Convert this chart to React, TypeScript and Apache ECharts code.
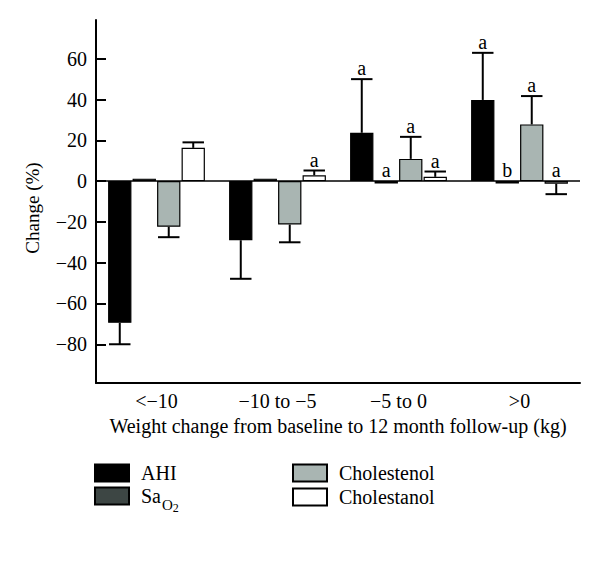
import React, { useEffect, useRef } from "react";
import * as echarts from "echarts";

const categories = ["<\u221210", "\u221210 to \u22125", "\u22125 to 0", ">0"];
const seriesNames = ["AHI", "SaO2", "Cholestenol", "Cholestanol"];
const seriesColors = ["#000000", "#3d4644", "#a9b5b2", "#ffffff"];

const ahi = [-69.5, -29, 23.7, 39.8];
const sao2 = [1.2, 1.2, -1.2, -1.2];
const cholestenol = [-22.4, -21.3, 10.9, 27.8];
const cholestanol = [16.3, 2.9, 2.1, -1.3];

const ahiErrEnd = [-80, -47.9, 50, 62.9];
const sao2ErrEnd = [null, null, null, null];
const cholestenolErrEnd = [-27.5, -30, 21.7, 41.7];
const cholestanolErrEnd = [19, 5.2, 4.7, -6.4];

const ahiLetters = ["", "", "a", "a"];
const sao2Letters = ["", "", "a", "b"];
const cholestenolLetters = ["", "", "a", "a"];
const cholestanolLetters = ["", "a", "a", "a"];

const yTicks = [-80, -60, -40, -20, 0, 20, 40, 60];

const FONT = "Liberation Serif";

export default function App() {
  const ref = useRef<HTMLDivElement>(null);

  useEffect(() => {
    document.body.style.margin = "0";
    if (!ref.current) return;
    const chart = echarts.init(ref.current, null, { renderer: "svg" });

    const values = [ahi, sao2, cholestenol, cholestanol];
    const errs = [ahiErrEnd, sao2ErrEnd, cholestenolErrEnd, cholestanolErrEnd];
    const letters = [ahiLetters, sao2Letters, cholestenolLetters, cholestanolLetters];

    const errData: any[] = [];
    const errLetters: string[] = [];
    for (let s = 0; s < 4; s++) {
      for (let c = 0; c < categories.length; c++) {
        errData.push([c, s, values[s][c], errs[s][c] == null ? values[s][c] : errs[s][c]]);
        errLetters.push(letters[s][c]);
      }
    }

    const barSeries = seriesNames.map((name, i) => ({
      name,
      type: "bar",
      data: values[i],
      barCategoryGap: "20%",
      barGap: "5%",
      itemStyle: { color: seriesColors[i], borderColor: "#000", borderWidth: 1.2 },
      markLine:
        i === 0
          ? {
              silent: true,
              symbol: ["none", "none"],
              label: { show: false },
              lineStyle: { color: "#000", width: 1.6, type: "solid" },
              data: [{ yAxis: 0 }],
            }
          : undefined,
    }));

    const errSeries = {
      type: "custom",
      z: 5,
      data: errData,
      encode: { x: 0, y: 2 },
      renderItem: (params: any, api: any) => {
        const cat = api.value(0);
        const s = api.value(1);
        const v = api.value(2);
        const e = api.value(3);
        const catW = api.size([1, 0])[0];
        const avail = catW * 0.8;
        const bw = avail / (4 + 3 * 0.05);
        const base = api.coord([cat, 0]);
        const x = base[0] - avail / 2 + bw / 2 + s * bw * 1.05;
        const zeroY = base[1];
        const vy = api.coord([cat, v])[1];
        const ey = api.coord([cat, e])[1];
        const children: any[] = [];
        if (Math.abs(ey - vy) > 0.5) {
          const cw = bw * 0.92;
          children.push({
            type: "line",
            shape: { x1: x, y1: vy, x2: x, y2: ey },
            style: { stroke: "#000", lineWidth: 2 },
          });
          children.push({
            type: "line",
            shape: { x1: x - cw / 2, y1: ey, x2: x + cw / 2, y2: ey },
            style: { stroke: "#000", lineWidth: 2 },
          });
        }
        const letter = errLetters[params.dataIndex];
        if (letter) {
          const anchor = Math.min(vy, ey, zeroY);
          children.push({
            type: "text",
            style: {
              text: letter,
              x: x,
              y: anchor - 1,
              align: "center",
              verticalAlign: "bottom",
              fontSize: 20,
              fontFamily: FONT,
              fill: "#000",
            },
          });
        }
        return { type: "group", children };
      },
    };

    const legendText = {
      fontSize: 20,
      fontFamily: FONT,
      color: "#000",
      padding: [0, 0, 0, 7],
      rich: {
        m: { fontSize: 20, fontFamily: FONT, color: "#000", lineHeight: 40, verticalAlign: "middle" },
        o: {
          fontSize: 15,
          fontFamily: FONT,
          color: "#000",
          lineHeight: 15,
          verticalAlign: "top",
          padding: [21, 0, 0, 1],
        },
        t: {
          fontSize: 12,
          fontFamily: FONT,
          color: "#000",
          lineHeight: 12,
          verticalAlign: "top",
          padding: [26, 0, 0, 0],
        },
      },
    };
    const legendFormatter = (name: string) => (name === "SaO2" ? "{m|Sa}{o|O}{t|2}" : name);

    const legendBase = {
      orient: "vertical",
      itemWidth: 34,
      itemHeight: 17,
      itemGap: 4,
      icon: "rect",
      padding: 0,
      selectedMode: false,
      formatter: legendFormatter,
      textStyle: legendText,
    };

    chart.setOption({
      animation: false,
      textStyle: { fontFamily: FONT },
      grid: { left: 96, top: 20, width: 484, height: 363, outerBoundsMode: "none" },
      legend: [
        { ...legendBase, data: ["AHI"], left: 94, top: 463 },
        { ...legendBase, data: ["SaO2"], left: 94, top: 476 },
        { ...legendBase, data: ["Cholestenol", "Cholestanol"], left: 292, top: 463 },
      ],
      xAxis: {
        type: "category",
        data: categories,
        axisLine: { onZero: false, lineStyle: { color: "#000", width: 2 } },
        axisTick: { alignWithLabel: true, inside: true, length: 10, lineStyle: { color: "#000", width: 2 } },
        axisLabel: { color: "#000", fontSize: 20, fontFamily: FONT, margin: 8 },
        name: "Weight change from baseline to 12 month follow-up (kg)",
        nameLocation: "middle",
        nameGap: 31,
        nameTextStyle: { color: "#000", fontSize: 20, fontFamily: FONT },
        splitLine: { show: false },
      },
      yAxis: {
        type: "value",
        min: -99,
        max: 79,
        axisLine: { show: true, lineStyle: { color: "#000", width: 2 } },
        axisTick: {
          show: true,
          inside: true,
          length: 10,
          customValues: yTicks,
          lineStyle: { color: "#000", width: 2 },
        },
        axisLabel: {
          color: "#000",
          fontSize: 20,
          fontFamily: FONT,
          margin: 9,
          customValues: yTicks,
          formatter: (v: number) => (v < 0 ? "\u2212" + Math.abs(v) : String(v)),
        },
        splitLine: { show: false },
      },
      graphic: [
        {
          type: "text",
          x: 32,
          y: 208,
          rotation: Math.PI / 2,
          style: {
            text: "Change (%)",
            align: "center",
            verticalAlign: "middle",
            fontSize: 19,
            fontFamily: FONT,
            fill: "#000",
          },
        },
      ],
      series: [...barSeries, errSeries],
    });

    return () => chart.dispose();
  }, []);

  return <div ref={ref} style={{ width: 600, height: 568 }} />;
}
